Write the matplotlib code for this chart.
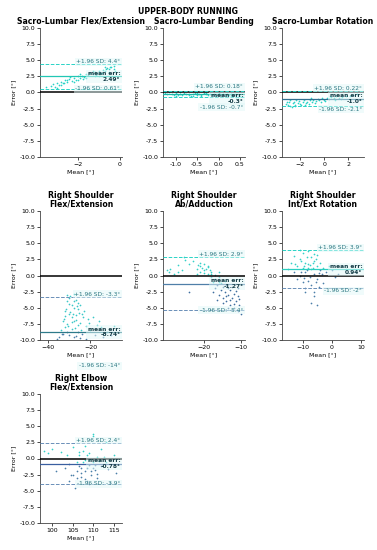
import matplotlib
matplotlib.use("Agg")
import matplotlib.pyplot as plt
import numpy as np

# panel titles
titles = ["Sacro-Lumbar Flex/Extension", "Sacro-Lumbar Bending", "Sacro-Lumbar Rotation",
          "Right Shoulder\nFlex/Extension", "Right Shoulder\nAb/Adduction",
          "Right Shoulder\nInt/Ext Rotation", "Right Elbow\nFlex/Extension"]

# bland-altman stats (mean error, +1.96 SD, -1.96 SD)
mean_err = [2.49, -0.3, -1.0, -8.74, -1.27, 0.94, -0.78]
upper_sd = [4.4, 0.18, 0.22, -3.3, 2.9, 3.9, 2.4]
lower_sd = [0.61, -0.7, -2.1, -14, -5.4, -2, -3.9]
mean_txt = ["2.49°", "-0.3°", "-1.0°", "-8.74°", "-1.27°", "0.94°", "-0.78°"]
upper_txt = ["+1.96 SD: 4.4°", "+1.96 SD: 0.18°", "+1.96 SD: 0.22°", "+1.96 SD: -3.3°",
             "+1.96 SD: 2.9°", "+1.96 SD: 3.9°", "+1.96 SD: 2.4°"]
lower_txt = ["-1.96 SD: 0.61°", "-1.96 SD: -0.7°", "-1.96 SD: -2.1°", "-1.96 SD: -14°",
             "-1.96 SD: -5.4°", "-1.96 SD: -2°", "-1.96 SD: -3.9°"]

# scatter points (mean, error) per panel
x1 = [-3.5,-3.3,-3.2,-3.1,-3.0,-2.9,-2.8,-2.7,-2.6,-2.5,-2.4,-2.3,-2.2,-2.1,-2.0,-1.9,-1.8,-1.7,-1.6,-1.5,
      -1.4,-1.3,-1.2,-1.1,-1.0,-0.9,-0.8,-0.7,-0.6,-0.5,-0.4,-0.3,-2.8,-2.5,-2.2,-1.9,-1.6,-1.3,-1.0,-0.7,
      -0.5,-0.3,-3.0,-2.0,-1.2,-2.35,-1.75,-1.45,-0.95,-0.65,-0.85,-1.15,-2.65,-0.25,-0.45]
y1 = [0.8,1.0,1.3,0.9,1.5,1.2,1.7,1.4,1.9,1.6,2.1,1.8,2.2,2.0,2.5,2.3,2.6,2.4,2.9,2.7,
      3.0,2.8,3.2,3.0,3.4,3.1,3.5,3.3,3.8,3.6,4.0,3.7,1.1,2.0,1.6,2.8,2.2,3.3,2.6,3.9,
      3.2,4.1,0.7,1.9,2.5,2.4,2.1,3.1,2.9,3.6,3.0,2.7,1.5,3.4,3.9]
x2 = [-1.25,-1.2,-1.1,-1.05,-1.0,-0.95,-0.9,-0.85,-0.8,-0.75,-0.7,-0.65,-0.6,-0.55,-0.5,-0.45,-0.4,-0.35,
      -0.3,-0.25,-0.2,-0.15,-0.1,-0.05,0.0,0.05,0.1,0.15,0.2,0.25,0.3,0.35,0.4,0.45,0.5,-1.15,-0.9,-0.6,
      -0.3,0.0,0.3,-0.7,-0.4,-0.1,0.2,0.4,-1.0,-0.5]
y2 = [-0.1,-0.3,-0.2,-0.4,-0.15,-0.35,-0.25,-0.45,-0.1,-0.3,-0.2,-0.5,-0.3,-0.15,-0.4,-0.25,-0.35,-0.1,
      -0.3,-0.45,-0.2,-0.35,-0.3,-0.5,-0.25,-0.4,-0.3,-0.55,-0.35,-0.45,-0.5,-0.6,-0.4,-0.65,-0.55,0.05,0.1,-0.6,
      -0.05,-0.15,-0.2,-0.4,-0.55,-0.45,-0.25,-0.7,-0.5,-0.1]
x3 = [-3.2,-3.0,-2.9,-2.8,-2.6,-2.5,-2.4,-2.2,-2.1,-2.0,-1.8,-1.7,-1.5,-1.4,-1.2,-1.0,-0.9,-0.7,-0.5,-0.4,
      -0.2,0.0,0.2,0.4,0.6,0.8,1.0,1.2,1.5,1.8,2.1,2.4,2.7,-2.7,-2.3,-1.9,-1.1,-0.3,0.5,1.4,
      -3.1,-2.45,-1.6,-0.8,0.1,0.9,-1.3,-2.8]
y3 = [-1.8,-2.0,-1.5,-2.1,-1.7,-1.4,-1.9,-1.6,-1.3,-1.8,-1.5,-1.2,-1.6,-1.4,-1.1,-1.5,-1.2,-1.3,-1.0,-1.2,
      -0.9,-1.1,-0.8,-1.0,-0.7,-0.9,-0.6,-0.8,-0.7,-0.5,-0.6,-0.4,-0.3,-2.2,-1.1,-2.0,-0.8,-1.4,-0.5,-1.0,
      -1.4,-2.1,-1.9,-1.6,-1.3,-1.2,-1.8,-1.2]
x4 = [-35,-34,-33,-33,-32,-32,-31,-31,-30,-30,-30,-29,-29,-29,-28,-28,-28,-27,-27,-26,-26,-25,-25,-24,-24,
      -23,-22,-21,-20,-19,-18,-17,-15,-14,-12,-10,-36,-31,-28,-26,-22,-16,
      -32.5,-31.5,-30.5,-29.5,-28.5,-27.5,-26.5,-25.5,-30,-29,-28,-27,-31,-26,-24.5,-23.5,-20.5,-13,-9,-33.5,
      -29.5,-27,-25,-32]
y4 = [-9.5,-8.5,-7.0,-9.0,-5.5,-8.0,-4.0,-7.5,-3.5,-6.0,-9.2,-4.5,-6.5,-8.3,-5.0,-7.0,-9.6,-3.8,-6.2,-5.2,
      -8.8,-4.6,-7.3,-6.0,-9.0,-5.5,-7.8,-6.8,-8.5,-6.5,-9.3,-7.7,-8.0,-9.5,-8.7,-9.2,-9.8,-3.0,-2.8,-4.2,-9.9,-7.0,
      -6.8,-5.2,-7.8,-3.2,-6.0,-8.2,-4.8,-5.8,-4.4,-7.2,-3.9,-6.9,-8.8,-7.6,-8.4,-6.4,-7.4,-8.9,-7.9,-9.0,
      -5.6,-9.4,-9.7,-6.3]
x5 = [-30,-29.5,-29,-28,-27,-26,-25.5,-25,-24,-23,-22,-22,-21.5,-21,-21,-20.5,-20,-20,-19.5,-19,-19,-18.5,
      -18,-18,-17.5,-17,-17,-16.5,-16,-16,-15.5,-15,-15,-14.5,-14,-14,-13.5,-13,-13,-12.5,-12,-12,-11.5,-11,
      -11,-10.5,-10,-24,-27,-16,
      -21,-20,-19,-18,-17,-16,-15.5,-14.5,-13.5,-12.5,-11.5,-10.5,-15,-14,-13,-12,-11,-17.5,-16.5,-13.5]
y5 = [0.8,0.5,1.0,0.3,0.6,0.9,2.8,2.4,1.8,2.2,1.0,0.2,1.6,0.6,2.0,1.2,0.4,1.8,1.0,0.2,1.5,0.8,
      -0.2,0.6,-1.0,-0.5,-2.0,-1.5,-1.0,-3.0,-2.2,-1.8,-3.5,-2.5,-1.5,-4.0,-3.0,-2.2,-4.5,-3.5,-2.8,-5.0,-4.0,-3.2,
      -5.5,-4.5,-6.0,-2.5,1.6,0.5,
      1.4,0.9,1.3,0.3,0.1,-0.3,-1.2,-0.8,-2.0,-1.8,-2.4,-3.6,-4.2,-3.2,-3.8,-4.4,-2.0,-2.6,-3.8,-5.0]
x6 = [-15,-14,-13,-13,-12,-12,-11,-11,-10,-10,-10,-9,-9,-9,-8,-8,-8,-7,-7,-7,-6,-6,-6,-5,-5,-5,-4,-4,-3,-3,
      -2,0,2,5,8,-7,-5,-6,-9,-11,
      -10.5,-9.5,-8.5,-7.5,-6.5,-5.5,-4.5,-8.5,-7.5,-6.5,-5.5,-9.5,-10.5,-4.5,-6,-8,-12.5,-3.5,1,-1]
y6 = [1.0,2.0,0.5,3.0,1.5,-0.5,2.5,0.0,1.2,3.5,-1.0,2.0,0.5,-2.0,1.8,3.8,-0.8,1.0,2.8,-1.5,2.2,0.2,-2.5,1.5,
      3.2,-0.5,2.0,0.8,1.2,-1.2,0.5,0.8,0.3,1.0,0.5,-4.2,-4.6,-3.2,-2.5,4.0,
      2.2,1.5,0.8,1.6,1.2,2.6,0.4,2.8,-0.2,1.9,-1.0,-0.4,0.6,-1.8,3.4,1.2,1.8,0.2,-0.3,1.5]
x7 = [98,99,100,101,102,103,103.5,104,104.5,105,105.5,106,106,106.5,107,107,107.5,108,108,108.5,109,109,109.5,
      110,110,110.5,111,111,112,112,113,113,114,115,115.5,105,108,110,104,109,
      106.5,107.5,108.5,109.5,110.5,111.5,107,108,109,110,111,106,112.5,113.5,106.5,108.5]
y7 = [1.2,0.8,1.5,-2.0,1.0,-1.5,0.5,-3.5,-2.5,1.8,-4.5,-0.5,-3.0,0.5,-1.5,-2.8,1.2,-0.2,-2.0,-3.5,0.8,-1.0,-2.5,
      3.8,-0.5,-1.8,0.2,-3.0,1.5,-1.2,-0.5,2.5,-3.8,0.5,-2.2,-2.5,2.0,3.5,-0.8,-4.0,
      -1.2,-0.6,-1.4,-2.0,-1.0,-0.4,-2.2,-3.2,-0.2,-1.4,-2.4,-2.0,0.3,-1.6,1.0,0.6]
xs = [x1, x2, x3, x4, x5, x6, x7]
ys = [y1, y2, y3, y4, y5, y6, y7]

xlims = [(-3.8, 0.1), (-1.3, 0.62), (-3.5, 3.3), (-44, -5), (-31, -9), (-17, 11), (97, 117)]
xticks = [[-2, 0], [-1.0, -0.5, 0.0, 0.5], [-2, 0, 2], [-40, -20], [-20, -10], [-10, 0, 10],
          [100, 105, 110, 115]]

# where each annotation sits (upper, mean, lower), tweaked so labels do not collide
upper_pos = [4.4, 0.5, 0.3, -3.3, 2.9, 3.9, 2.4]
mean_pos = [2.49, -0.9, -0.9, -8.74, -1.27, 0.94, -0.78]
lower_pos = [0.61, -2.3, -2.6, -14, -5.4, -2.4, -3.9]

CY = "#2ad3c6"
ST = "#6a8fb8"
line_cols = [(CY, "#22c7b4", CY), (CY, "#1fb8aa", CY), (CY, "#2f6f8f", CY), (ST, "#2e7a8a", ST),
             (CY, "#4f7fa8", ST), (CY, "#2ccfc0", ST), (ST, "#3a5fa0", ST)]
pt_cols = [(CY, CY), (CY, CY), (CY, CY), ("#3cc8c8", "#4a7fa8"), ("#35d0c8", "#3d6e9e"),
           ("#35d0c8", "#4a7fa8"), ("#35d0c8", "#4a7fa8")]

W, H = 377, 550
fig = plt.figure(figsize=(W / 100, H / 100), dpi=100)
fig.text(0.5, 1 - 11 / H, "UPPER-BODY RUNNING", ha="center", va="center", fontsize=5.6,
         fontweight="bold")

lefts = [40, 163, 282]
rows = [(28, 157), (211, 340), (394, 523)]
box = dict(boxstyle="square,pad=0.25", facecolor="#e2f8f8", edgecolor="none", alpha=0.5)

for i in range(7):
    r, c = divmod(i, 3)
    top, bot = rows[r]
    ax = fig.add_axes([lefts[c] / W, 1 - bot / H, 82 / W, (bot - top) / H])
    x = np.array(xs[i]); y = np.array(ys[i])
    hi = y >= mean_err[i]
    ax.scatter(x[hi], y[hi], s=1.5, c=pt_cols[i][0], linewidths=0, zorder=2)
    ax.scatter(x[~hi], y[~hi], s=1.5, c=pt_cols[i][1], linewidths=0, zorder=2)
    ax.axhline(0, color="black", lw=1.1, zorder=3)
    uc, mc, lc = line_cols[i]
    ax.axhline(upper_sd[i], color=uc, lw=0.7, ls="--", zorder=3)
    ax.axhline(mean_err[i], color=mc, lw=0.9, zorder=3)
    ax.axhline(lower_sd[i], color=lc, lw=0.7, ls="--", zorder=3)

    tr = ax.get_yaxis_transform()
    ax.text(0.98, upper_pos[i], upper_txt[i], transform=tr, ha="right", va="bottom",
            fontsize=4.2, color="#2a7680", bbox=box, zorder=4)
    ax.text(0.98, mean_pos[i], "mean err:\n" + mean_txt[i], transform=tr, ha="right",
            va="center", fontsize=4.2, color="#123a44", fontweight="bold", linespacing=1.1,
            bbox=box, zorder=4)
    ax.text(0.98, lower_pos[i], lower_txt[i], transform=tr, ha="right", va="center",
            fontsize=4.2, color="#2a7680", bbox=box, zorder=4, clip_on=False)

    ax.set_xlim(*xlims[i])
    ax.set_ylim(-10, 10)
    ax.set_xticks(xticks[i])
    if i == 1:
        ax.set_xticklabels(["-1.0", "-0.5", "0.0", "0.5"])
    ax.set_yticks(np.arange(-10, 10.1, 2.5))
    ax.set_yticklabels(["%.1f" % v for v in np.arange(-10, 10.1, 2.5)])
    ax.tick_params(labelsize=4.5, length=2, width=0.5, pad=1.5)
    for s in ["top", "right"]:
        ax.spines[s].set_visible(False)
    for s in ["left", "bottom"]:
        ax.spines[s].set_linewidth(0.6)
        ax.spines[s].set_color("#444444")
    ax.set_title(titles[i], fontsize=5.6, fontweight="bold", pad=3, linespacing=1.0)
    ax.set_xlabel("Mean [°]", fontsize=4.5, labelpad=2)
    ax.set_ylabel("Error [°]", fontsize=4.5, labelpad=2)

fig.savefig("out.png", dpi=100)
